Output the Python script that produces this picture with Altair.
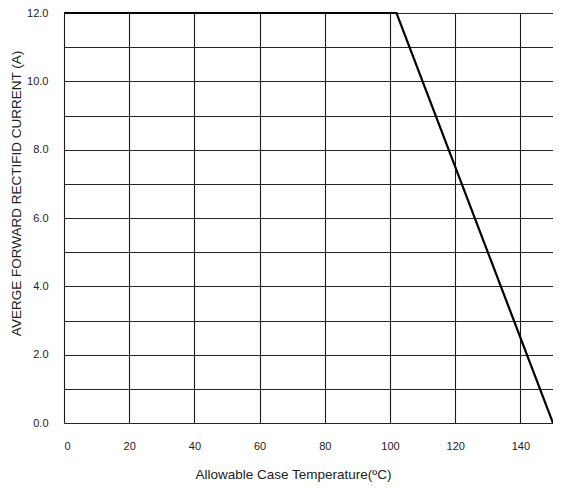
import altair as alt
import pandas as pd

# Data
temps = [0, 102, 150]
currents = [12.0, 12.0, 0.0]

x_grid = [0, 20, 40, 60, 80, 100, 120, 140]
y_grid = [0, 1, 2, 3, 4, 5, 6, 7, 8, 9, 10, 11, 12]

df = pd.DataFrame({"temp": temps, "current": currents})

FONT = "Liberation Sans"

line = alt.Chart(df).mark_line(color="#000000", strokeWidth=2.2).encode(
    x=alt.X(
        "temp:Q",
        scale=alt.Scale(domain=[0, 150], nice=False, zero=False),
        axis=alt.Axis(
            title="Allowable Case Temperature(ºC)",
            values=x_grid,
            format="d",
            grid=True,
            gridColor="#1a1a1a",
            gridWidth=1.1,
            gridOpacity=1,
            domain=False,
            ticks=False,
            tickSize=0,
            labelPadding=17,
            labelFont=FONT,
            labelFontSize=11,
            labelColor="#222222",
            titleFont=FONT,
            titleFontSize=13.5,
            titleFontWeight="normal",
            titleColor="#222222",
            titleX=229,
            titleY=51,
            titleBaseline="middle",
            titleAnchor="middle",
        ),
    ),
    y=alt.Y(
        "current:Q",
        scale=alt.Scale(domain=[0, 12], nice=False, zero=False),
        axis=alt.Axis(
            title="AVERGE FORWARD  RECTIFID CURRENT (A)",
            values=y_grid,
            labelExpr="datum.value % 2 == 0 ? format(datum.value, '.1f') : ''",
            grid=True,
            gridColor="#262626",
            gridWidth=1.1,
            gridOpacity=1,
            domain=False,
            ticks=False,
            tickSize=0,
            labelPadding=16,
            labelFont=FONT,
            labelFontSize=11,
            labelColor="#222222",
            titleFont=FONT,
            titleFontSize=13.5,
            titleFontWeight="normal",
            titleColor="#222222",
            titleX=-55,
            titleY=180,
            titleBaseline="top",
            titleAnchor="middle",
            titleAngle=270,
        ),
    ),
)

chart = line.properties(
    width=489,
    height=410,
    autosize=alt.AutoSizeParams(type="none"),
    padding={"left": 56, "top": 5, "right": 0, "bottom": 60},
).configure_view(stroke=None).configure(background="white")

chart.save("out.html", embed_options={"renderer": "svg", "actions": False})
